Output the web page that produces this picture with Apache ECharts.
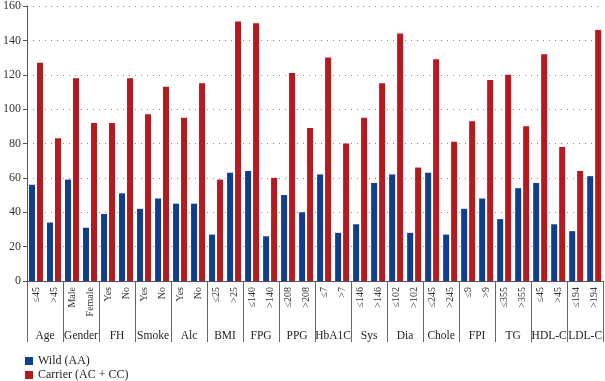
<!DOCTYPE html>
<html>
<head>
<meta charset="utf-8">
<script src="https://cdn.jsdelivr.net/npm/echarts@6/dist/echarts.min.js"></script>
<style>
  html, body { margin: 0; padding: 0; background: #fff; }
  #container { width: 605px; height: 381px; }
</style>
</head>
<body>
<div id="container"></div>
<script>
let groups = ["Age", "Gender", "FH", "Smoke", "Alc", "BMI", "FPG", "PPG",
  "HbA1C", "Sys", "Dia", "Chole", "FPI", "TG", "HDL-C", "LDL-C"];
let categories = ["≤45", ">45", "Male", "Female", "Yes", "No", "Yes", "No",
  "Yes", "No", "≤25", ">25", "≤140", ">140", "≤208", ">208", "≤7", ">7",
  "≤146", ">146", "≤102", ">102", "≤245", ">245", "≤9", ">9", "≤355", ">355",
  "≤45", ">45", "≤194", ">194"];
let wild = [56, 34, 59, 31, 39, 51, 42, 48, 45, 45, 27, 63, 64, 26, 50, 40,
  62, 28, 33, 57, 62, 28, 63, 27, 42, 48, 36, 54, 57, 33, 29, 61];
let carrier = [127, 83, 118, 92, 92, 118, 97, 113, 95, 115, 59, 151, 150, 60,
  121, 89, 130, 80, 95, 115, 144, 66, 129, 81, 93, 117, 120, 90, 132, 78, 64, 146];
let yTicks = [0, 20, 40, 60, 80, 100, 120, 140, 160];

const font = "Liberation Serif";
let dom = document.getElementById("container");
let myChart = echarts.init(dom, null, { renderer: "canvas" });

// one legend per row so the two entries stack
const legendRow = (name, top) => ({
  left: 25,
  top: top,
  itemWidth: 8,
  itemHeight: 8,
  icon: "rect",
  padding: 0,
  textStyle: { fontFamily: font, fontSize: 12, color: "#222" },
  data: [name],
});

let option = {
  animation: false,
  textStyle: { fontFamily: font },
  grid: { left: 24.5, right: 1, top: 3, bottom: 100 },
  legend: [legendRow("Wild (AA)", 355), legendRow("Carrier (AC + CC)", 369)],
  xAxis: [
    {
      type: "category",
      data: categories,
      axisLine: { show: true, lineStyle: { color: "#555", width: 1 } },
      axisTick: { show: false },
      splitLine: { show: false },
      axisLabel: {
        interval: 0,
        rotate: 90,
        margin: 6,
        fontFamily: font,
        fontSize: 10,
        color: "#333",
      },
    },
    {
      type: "category",
      data: groups,
      position: "bottom",
      axisLine: { show: false },
      splitLine: { show: false },
      axisTick: { show: true, interval: 0, length: 61, lineStyle: { color: "#666" } },
      axisLabel: {
        interval: 0,
        margin: 49,
        fontFamily: font,
        fontSize: 11.5,
        color: "#222",
      },
    },
  ],
  yAxis: {
    type: "value",
    min: yTicks[0],
    max: yTicks[yTicks.length - 1],
    interval: 20,
    axisLine: { show: true, lineStyle: { color: "#555" } },
    axisTick: { show: true, length: 4, lineStyle: { color: "#555" } },
    axisLabel: { margin: 6, fontFamily: font, fontSize: 12, color: "#333" },
    splitLine: { show: true, lineStyle: { color: "#888", type: [1, 5] } },
  },
  series: [
    {
      name: "Wild (AA)",
      type: "bar",
      data: wild,
      barWidth: 6,
      barGap: "33%",
      itemStyle: { color: "#0c3f91" },
    },
    {
      name: "Carrier (AC + CC)",
      type: "bar",
      data: carrier,
      barWidth: 6,
      itemStyle: { color: "#b8191d" },
    },
  ],
};

myChart.setOption(option);
window.addEventListener("resize", myChart.resize);
</script>
</body>
</html>
